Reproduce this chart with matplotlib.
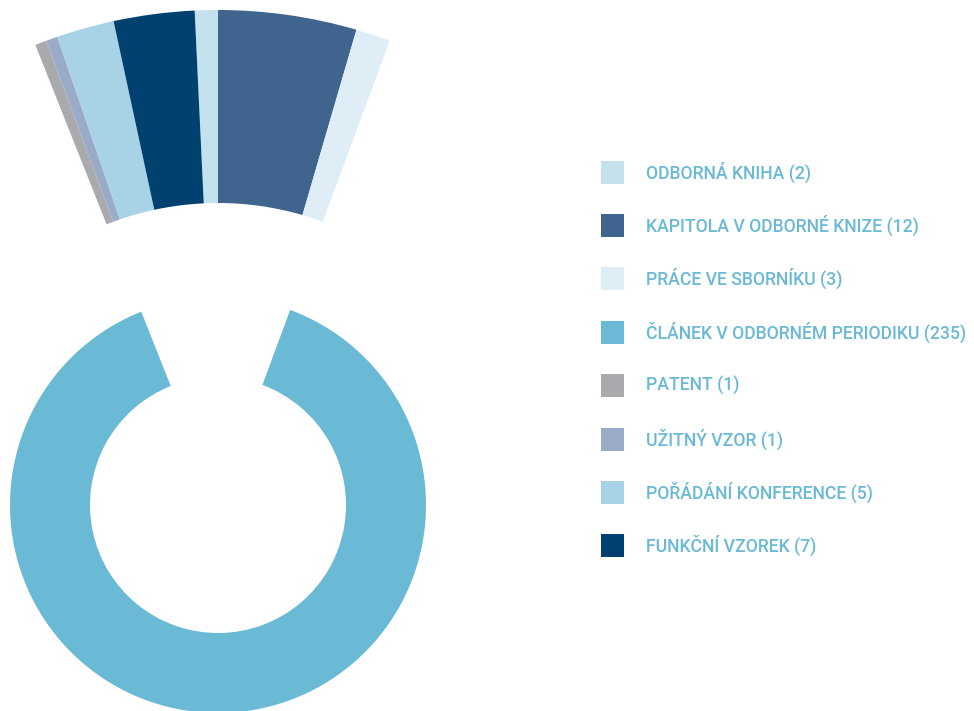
import matplotlib.pyplot as plt
from matplotlib.patches import Rectangle

labels = ["ODBORNÁ KNIHA", "KAPITOLA V ODBORNÉ KNIZE", "PRÁCE VE SBORNÍKU",
          "ČLÁNEK V ODBORNÉM PERIODIKU", "PATENT", "UŽITNÝ VZOR",
          "POŘÁDÁNÍ KONFERENCE", "FUNKČNÍ VZOREK"]
counts = [2, 12, 3, 235, 1, 1, 5, 7]
colors = ["#c4e1ee", "#3f658e", "#dfeef6", "#6ab9d5",
          "#a9aaae", "#9aabc7", "#a8d3e6", "#00416f"]
big = "ČLÁNEK V ODBORNÉM PERIODIKU"

W, H = 974, 711
fig = plt.figure(figsize=(W / 100, H / 100), dpi=100)
ax = fig.add_axes([0, 0, 1, 1])

total = sum(counts)
start = 90 + counts[0] / total * 360
cx, cy = 218, H - 505

# main ring: only the big category
c_inner = [c if l == big else "none" for l, c in zip(labels, colors)]
ax.pie(counts, colors=c_inner, startangle=start, counterclock=False,
       radius=208, center=(cx, cy), wedgeprops=dict(width=80, linewidth=0))

# outer ring: the small categories, pulled out
c_outer = ["none" if l == big else c for l, c in zip(labels, colors)]
ax.pie(counts, colors=c_outer, startangle=start, counterclock=False,
       radius=495, center=(cx, cy), wedgeprops=dict(width=193, linewidth=0))

# legend
for i, (l, n, c) in enumerate(zip(labels, counts, colors)):
    y = H - (172 + i * 53.4)
    ax.add_patch(Rectangle((601, y - 11.5), 23, 23, color=c, lw=0))
    ax.text(646, y, f"{l} ({n})", color="#6ab9d5", fontsize=12.7,
            family="Roboto", weight="medium", va="center", ha="left")

ax.set_xlim(0, W)
ax.set_ylim(0, H)
ax.set_aspect("auto")
ax.axis("off")
fig.savefig("out.png", dpi=100)
